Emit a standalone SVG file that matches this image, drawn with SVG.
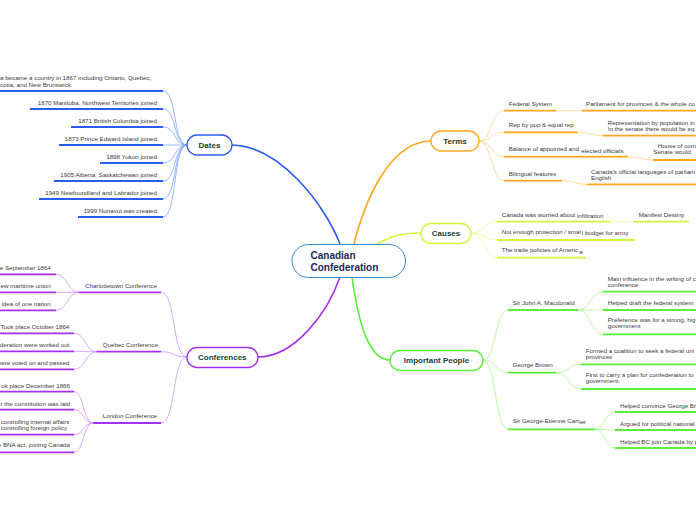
<svg xmlns="http://www.w3.org/2000/svg" width="696" height="520" viewBox="0 0 696 520">
<style>
.t{font-family:"Liberation Sans",Arial,sans-serif;font-size:6.2px;fill:#3a3a3a}
.e{text-anchor:end}
.h{font-family:"Liberation Sans",Arial,sans-serif;font-size:8px;font-weight:bold;fill:#173f38;text-anchor:middle}
.n{fill:#fff;stroke-width:1.3}
.u{fill:none;stroke-width:1.8}
.c{fill:none;stroke-width:0.8}
.m{fill:none;stroke-width:1.6}
.blue{stroke:#2a5cf2}.lblue{stroke:#7ea2ff}
.or{stroke:#ffa51e}.lor{stroke:#ffd38a}
.ye{stroke:#d6f23a}.lye{stroke:#ecf99a}
.pu{stroke:#a531f0}.lpu{stroke:#d291ff}
.gr{stroke:#5cef3a}.lgr{stroke:#a9f78f}
</style>
<rect width="696" height="520" fill="#fff"/>
<g id="connectors">
<path class="m blue" d="M340,244 C325,205 280,146 232,145"/>
<path class="m or" d="M354,244 C365,200 390,141 431,141"/>
<path class="m ye" d="M377,244 C392,236 400,233 421,233"/>
<path class="m pu" d="M340,277 C328,312 295,357 258,357"/>
<path class="m gr" d="M352,277 C358,320 368,360 390,360"/>
<g class="c lblue">
<path d="M187,145 C173,145 177,91 163,91"/>
<path d="M187,145 C173,145 177,109 163,109"/>
<path d="M187,145 C173,145 177,127 163,127"/>
<path d="M187,145 C173,145 177,145 163,145"/>
<path d="M187,145 C173,145 177,163 163,163"/>
<path d="M187,145 C173,145 177,181 163,181"/>
<path d="M187,145 C173,145 177,199 163,199"/>
<path d="M187,145 C173,145 177,217 163,217"/>
</g>
<g class="c lor">
<path d="M479,141 C492,141 491,110.7 504,110.7"/>
<path d="M479,141 C492,141 491,132.3 504,132.3"/>
<path d="M479,141 C492,141 491,156.7 504,156.7"/>
<path d="M479,141 C492,141 491,180.7 504,180.7"/>
<path d="M556,110.7 L582,110.7"/>
<path d="M578,132.3 C590,132.3 591,135.7 603,135.7"/>
<path d="M628,156.7 C640,156.7 641,160 653,160"/>
<path d="M562,180.7 C574,180.7 575,184.3 587,184.3"/>
</g>
<g class="c lye">
<path d="M471,233 C484,233 484,221.7 497,221.7"/>
<path d="M471,233 C484,233 484,240 497,240"/>
<path d="M471,233 C484,233 484,257.7 497,257.7"/>
<path d="M610,221.7 L634,221.7"/>
</g>
<g class="c lpu">
<path d="M187,357 C172,357 176,292.3 161,292.3"/>
<path d="M187,357 C172,357 176,351.7 161,351.7"/>
<path d="M187,357 C172,357 176,423 161,423"/>
<path d="M79,292.3 C67,292.3 68,274.3 56,274.3"/>
<path d="M79,292.3 C67,292.3 68,292.3 56,292.3"/>
<path d="M79,292.3 C67,292.3 68,310.3 56,310.3"/>
<path d="M96.7,351.7 C85,351.7 86,333.3 74,333.3"/>
<path d="M96.7,351.7 C85,351.7 86,351.3 74,351.3"/>
<path d="M96.7,351.7 C85,351.7 86,369.3 74,369.3"/>
<path d="M93.3,423 C83,423 84,391.7 74,391.7"/>
<path d="M93.3,423 C83,423 84,409.7 74,409.7"/>
<path d="M93.3,423 C83,423 84,434.7 74,434.7"/>
<path d="M93.3,423 C83,423 84,452.3 74,452.3"/>
</g>
<g class="c lgr">
<path d="M483,360 C496,360 495,310 508,310"/>
<path d="M483,360 C496,360 495,372.7 508,372.7"/>
<path d="M483,360 C496,360 495,429.3 508,429.3"/>
<path d="M578,310 C591,310 590,291.7 603,291.7"/>
<path d="M578,310 C591,310 590,310 603,310"/>
<path d="M578,310 C591,310 590,334.3 603,334.3"/>
<path d="M556,372.7 C569,372.7 568,364.3 581,364.3"/>
<path d="M556,372.7 C569,372.7 568,389 581,389"/>
<path d="M595,429.3 C605,429.3 605,412 615,412"/>
<path d="M595,429.3 C605,429.3 605,430 615,430"/>
<path d="M595,429.3 C605,429.3 605,448 615,448"/>
</g>
</g>
<g id="center">
<rect x="292" y="244.5" width="113.5" height="33" rx="16.5" fill="#fff" stroke="#3a8ccc" stroke-width="1"/>
<text x="310.5" y="259.3" font-family="Liberation Sans,Arial,sans-serif" font-size="10" font-weight="bold" fill="#1b2a52">Canadian</text>
<text x="310.5" y="270.5" font-family="Liberation Sans,Arial,sans-serif" font-size="10" font-weight="bold" fill="#1b2a52">Confederation</text>
</g>
<g id="dates">
<rect class="n blue" x="187" y="135" width="45" height="20" rx="10"/>
<text class="h" x="209.5" y="148">Dates</text>
</g>
<g id="dates-items">
<path class="u blue" d="M0,91 H163 M30,109 H163 M71,127 H163 M59,145 H163 M100,163 H163 M54,181 H163 M39,199 H163 M78,217 H163"/>
<text class="t" x="0" y="80">a became a country in 1867 including Ontario, Quebec,</text>
<text class="t" x="0" y="86.6">cotia, and New Brunswick</text>
<text class="t e" x="157" y="105">1870 Manitoba, Northwest Territories joined</text>
<text class="t e" x="157" y="123">1871 British Columbia joined</text>
<text class="t e" x="157" y="141">1873 Prince Edward Island joined</text>
<text class="t e" x="157" y="159">1898 Yukon joined</text>
<text class="t e" x="157" y="177">1905 Alberta, Saskatchewan joined</text>
<text class="t e" x="157" y="195">1949 Newfoundland and Labrador joined</text>
<text class="t e" x="157" y="213">1999 Nunavut was created</text>
</g>
<g id="terms">
<rect class="n or" x="431" y="131" width="48" height="20" rx="10"/>
<text class="h" x="455" y="144">Terms</text>
</g>
<g id="terms-items">
<path class="u or" d="M504,110.7 H556 M582,110.7 H696 M504,132.3 H578 M603,135.7 H696 M504,156.7 H628 M653,160 H696 M504,180.7 H562 M587,184.3 H696"/>
<text class="t" x="508.7" y="106">Federal System</text>
<text class="t" x="586" y="106">Parliament for provinces &amp; the whole co</text>
<text class="t" x="508.7" y="127">Rep by pop &amp; equal rep</text>
<text class="t" x="607.7" y="124.5">Representation by population in</text>
<text class="t" x="607.7" y="130.5">In the senate there would be eq</text>
<text class="t" x="508.7" y="151.3">Balance of appointed and</text>
<text class="t" x="581.3" y="152.7">elected officials</text>
<text class="t" x="657.7" y="147.5">House of comm</text>
<text class="t" x="653.3" y="153.5">Senate would</text>
<text class="t" x="508.7" y="176">Bilingual features</text>
<text class="t" x="591" y="173.5">Canada's official languages of parliam</text>
<text class="t" x="591" y="179.5">English</text>
</g>
<g id="causes">
<rect class="n ye" x="421" y="223.5" width="50" height="20" rx="10"/>
<text class="h" x="446" y="236.3">Causes</text>
</g>
<g id="causes-items">
<path class="u ye" d="M497,221.7 H610 M634,221.7 H689 M497,240 H635 M497,257.7 H586"/>
<text class="t" x="501.7" y="216.7">Canada was worried about</text>
<text class="t" x="577" y="217.5">infiltration</text>
<text class="t" x="638.7" y="217">Manifest Destiny</text>
<text class="t" x="501.7" y="234.3">Not enough protection / smal</text>
<text class="t" x="581.8" y="235.3">l budget for army</text>
<text class="t" x="501.7" y="252.3">The trade policies of Americ</text>
<text class="t" x="579.3" y="253.5">a</text>
</g>
<g id="conferences">
<rect class="n pu" x="187" y="347.5" width="71" height="20" rx="10"/>
<text class="h" x="222.3" y="360.3">Conferences</text>
</g>
<g id="conference-items">
<path class="u pu" d="M79,292.3 H161 M96.7,351.7 H161 M93.3,423 H161 M0,274.3 H56 M0,292.3 H56 M0,310.3 H56 M0,333.3 H74 M0,351.3 H74 M0,369.3 H74 M0,391.7 H74 M0,409.7 H74 M0,434.7 H74 M0,452.3 H74"/>
<text class="t" x="85" y="287.7">Charlottetown Conference</text>
<text class="t" x="102.7" y="346.7">Quebec Conference</text>
<text class="t" x="102.7" y="417.7">London Conference</text>
<text class="t e" x="50.7" y="269.7">e September 1864</text>
<text class="t e" x="50.7" y="287.7">ew maritime union</text>
<text class="t e" x="50.7" y="305.7">idea of one nation</text>
<text class="t e" x="69.3" y="328.7">Took place October 1864</text>
<text class="t e" x="69.3" y="346.7">deration were worked out</text>
<text class="t e" x="69.3" y="364.7">were voted on and passed</text>
<text class="t e" x="70" y="387.7">ok place December 1866</text>
<text class="t e" x="70" y="405.7">r the constitution was laid</text>
<text class="t" x="0.7" y="423.7">controlling internal affairs</text>
<text class="t" x="0.7" y="429.5">controlling foreign policy</text>
<text class="t e" x="70" y="447.3">e BNA act, joining Canada</text>
</g>
<g id="important-people">
<rect class="n gr" x="390" y="350.5" width="93" height="20" rx="10"/>
<text class="h" x="436.5" y="363">Important People</text>
</g>
<g id="people-items">
<path class="u gr" d="M508,310 H578 M508,372.7 H556 M508,429.3 H595 M603,291.7 H696 M603,310 H696 M603,334.3 H696 M581,364.3 H696 M581,389 H696 M615,412 H696 M615,430 H696 M615,448 H696"/>
<text class="t" x="512.7" y="305">Sir John A. Macdonald</text>
<text class="t" x="607.7" y="281">Main influence in the writing of c</text>
<text class="t" x="607.7" y="287">conference</text>
<text class="t" x="607.7" y="304.5">Helped draft the federal system</text>
<text class="t" x="607.7" y="322.3">Preference was for a strong, hig</text>
<text class="t" x="607.7" y="328.3">government</text>
<text class="t" x="512.7" y="367.3">George Brown</text>
<text class="t" x="585.7" y="353.3">Formed a coalition to seek a federal uni</text>
<text class="t" x="585.7" y="359.3">provinces</text>
<text class="t" x="585.7" y="377.3">First to carry a plan for confederation to</text>
<text class="t" x="585.7" y="383.3">government.</text>
<text class="t" x="512.7" y="422.7">Sir George-Etienne Cart</text>
<text class="t" x="579.3" y="424">ier</text>
<text class="t" x="620" y="407.5">Helped convince George Bro</text>
<text class="t" x="620" y="425.5">Argued for political national</text>
<text class="t" x="620" y="443.5">Helped BC join Canada by p</text>
</g>
</svg>
